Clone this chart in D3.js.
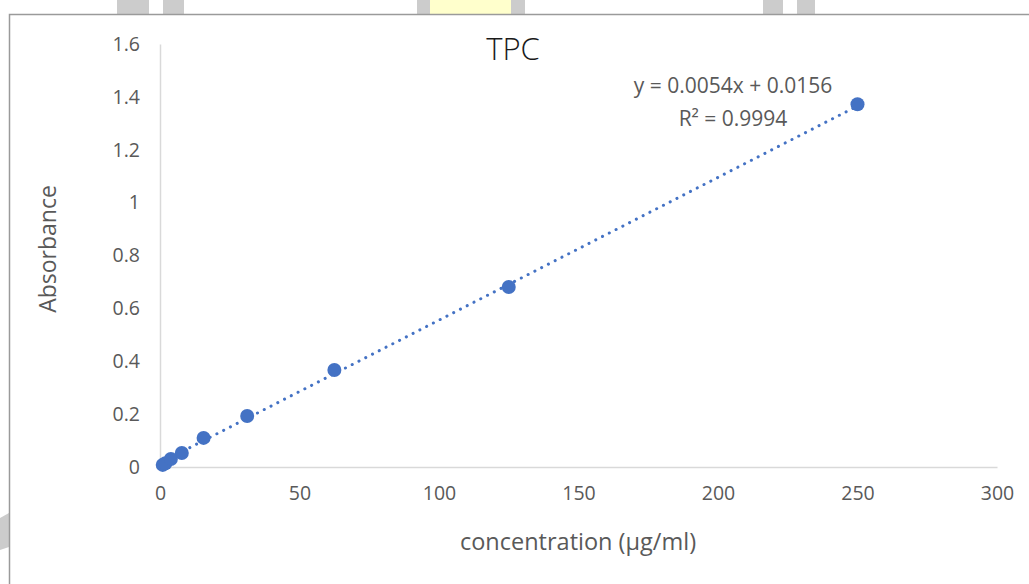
<!DOCTYPE html>
<html>
<head>
<meta charset="utf-8">
<script src="https://cdn.jsdelivr.net/npm/d3@7"></script>
<style>
  html, body { margin: 0; padding: 0; background: #fff; }
  svg { display: block; font-family: "Open Sans", "Noto Sans", sans-serif; }
</style>
</head>
<body>
<svg id="chart" width="1029" height="584"></svg>
<script>
// Standard curve: concentration (µg/ml) vs absorbance
const concentration = [0.977, 1.953, 3.906, 7.813, 15.625, 31.25, 62.5, 125, 250];
const absorbance    = [0.008, 0.014, 0.030, 0.053, 0.110, 0.193, 0.367, 0.681, 1.372];
const xTicks = [0, 50, 100, 150, 200, 250, 300];
const yTicks = [0, 0.2, 0.4, 0.6, 0.8, 1, 1.2, 1.4, 1.6];
const slope = 0.0054, intercept = 0.0156, rSquared = 0.9994;

const svg = d3.select("#chart");

// Page decorations behind the chart frame
const deco = svg.append("g");
[[117, 149, "#cccccc"], [163, 184, "#cccccc"], [417, 430, "#cccccc"],
 [430, 511, "#ffffcc"], [511, 525, "#cccccc"], [763, 783, "#cccccc"], [797, 815, "#cccccc"]]
  .forEach(([a, b, c]) => deco.append("rect").attr("x", a).attr("y", 0)
    .attr("width", b - a).attr("height", 14).attr("fill", c));
deco.append("path").attr("d", "M0,518 L9,513 L9,547 L0,550 Z").attr("fill", "#cccccc");

// Chart frame
svg.append("path").attr("d", "M9.5,600 L9.5,14.5 L1040,14.5")
  .attr("fill", "none").attr("stroke", "#9a9a9a").attr("stroke-width", 1.5);

const x = d3.scaleLinear().domain([0, 300]).range([160, 997]);
const y = d3.scaleLinear().domain([0, 1.6]).range([467, 44]);

// Axes
const xAxis = svg.append("g").attr("transform", `translate(0,${y(0)})`)
  .call(d3.axisBottom(x).tickValues(xTicks).tickSize(0).tickPadding(19).tickFormat(d3.format("d")));
const yAxis = svg.append("g").attr("transform", `translate(${x(0)},0)`)
  .call(d3.axisLeft(y).tickValues(yTicks).tickSize(0).tickPadding(20).tickFormat(d => String(d)));
[xAxis, yAxis].forEach(g => {
  g.select(".domain").attr("stroke", "#d9d9d9").attr("stroke-width", 1.5);
  g.selectAll("text").attr("fill", "#595959").attr("font-size", 19.5)
    .attr("font-family", "\"Open Sans\", sans-serif");
});
xAxis.selectAll("text").attr("dy", "0.71em");

// Linear trendline (dotted)
const xs = d3.extent(concentration);
svg.append("line")
  .attr("x1", x(xs[0])).attr("y1", y(slope * xs[0] + intercept))
  .attr("x2", x(xs[1])).attr("y2", y(slope * xs[1] + intercept))
  .attr("stroke", "#4472c4").attr("stroke-width", 3)
  .attr("stroke-linecap", "round").attr("stroke-dasharray", "0.1,7.5");

// Data points
svg.append("g").selectAll("circle")
  .data(concentration.map((c, i) => [c, absorbance[i]]))
  .join("circle")
  .attr("cx", d => x(d[0])).attr("cy", d => y(d[1])).attr("r", 7)
  .attr("fill", "#4472c4");

// Title
svg.append("text").attr("x", 513).attr("y", 60).attr("text-anchor", "middle")
  .attr("font-size", 31).attr("font-weight", 300).attr("fill", "#1a1a1a").text("TPC");

// Trendline equation
svg.append("text").attr("x", 733).attr("y", 93).attr("text-anchor", "middle")
  .attr("font-size", 21).attr("fill", "#595959")
  .text(`y = ${slope}x + ${intercept}`);
svg.append("text").attr("x", 733).attr("y", 126).attr("text-anchor", "middle")
  .attr("font-size", 21).attr("fill", "#595959")
  .text(`R² = ${rSquared}`);

// Axis titles
svg.append("text").attr("x", 578).attr("y", 550).attr("text-anchor", "middle")
  .attr("font-size", 23.5).attr("fill", "#595959").text("concentration (µg/ml)");
svg.append("text").attr("transform", "translate(56,249) rotate(-90)")
  .attr("text-anchor", "middle").attr("font-size", 23).attr("fill", "#595959").text("Absorbance");
</script>
</body>
</html>
